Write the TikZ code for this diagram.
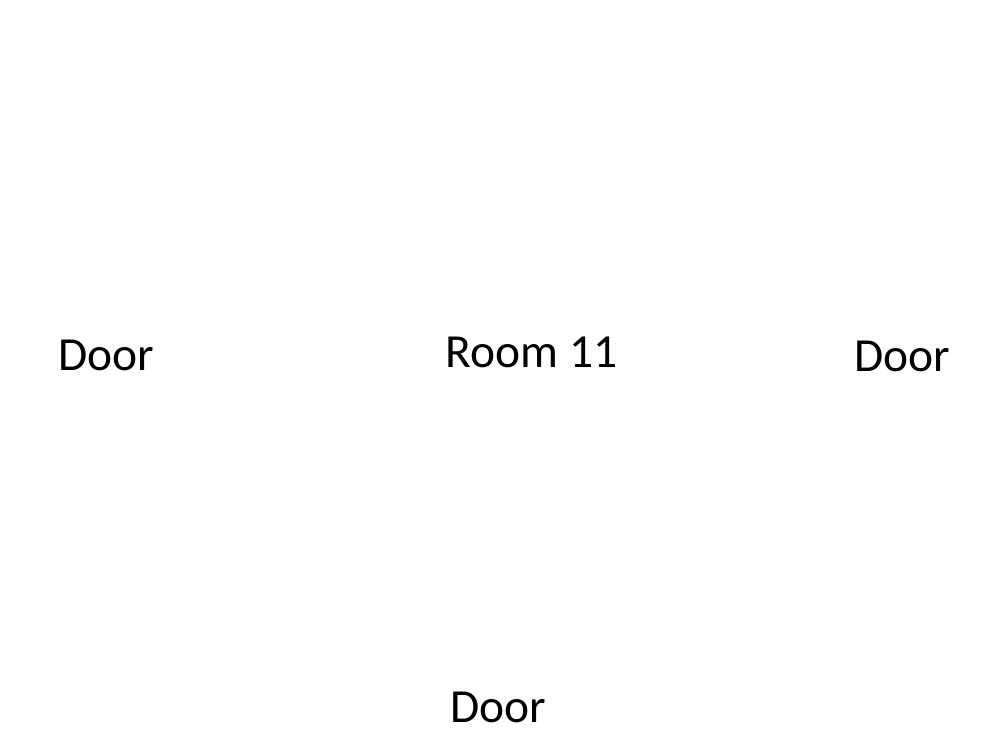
\documentclass[tikz,border=0pt]{standalone}
\usepackage{fontspec}
\setmainfont{Carlito}
\begin{document}
\begin{tikzpicture}[x=0.75pt,y=-0.75pt,
  lbl/.style={inner sep=0pt,anchor=base,font=\fontsize{35.6}{42}\selectfont}]
\useasboundingbox (0,0) rectangle (1000,750);
\node[lbl] (doorL) at (106.5,370) {Door};
\node[lbl] (room) at (531.5,367) {Room 11};
\node[lbl] (doorR) at (902.5,371) {Door};
\node[lbl] (doorB) at (498.5,722) {Door};
\end{tikzpicture}
\end{document}
